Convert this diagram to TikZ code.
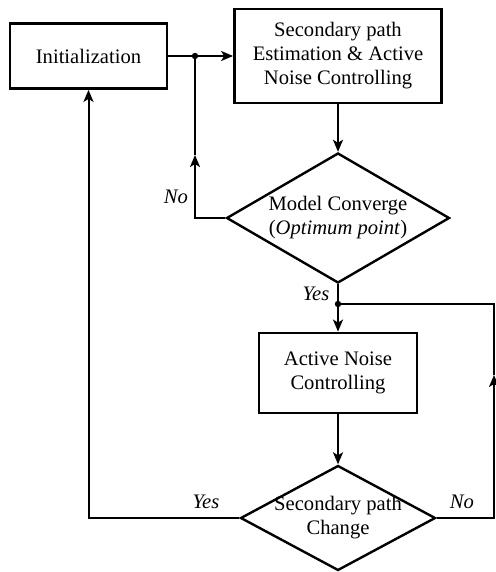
\documentclass[tikz,border=0pt]{standalone}
\usepackage{fontspec}
\setmainfont{Liberation Serif}
\usetikzlibrary{shapes.geometric,arrows.meta}
\tikzset{
  blk/.style={draw,line width=1.4pt,rectangle,align=center,inner sep=0pt},
  dec/.style={draw,line width=1.2pt,diamond,align=center,inner sep=0pt,inner xsep=-22pt},
  ln/.style={line width=1pt},
  arr/.style={ln,-{Stealth[length=6pt,width=5pt,inset=1.5pt]}},
  ans/.style={font=\fontsize{10.3}{12}\selectfont\itshape}
}
\begin{document}
\begin{tikzpicture}[x=0.5pt,y=-0.5pt,font=\fontsize{10.3}{12}\selectfont]
		\useasboundingbox (0,0) rectangle (495,572);
		\node[blk,minimum width=78.5pt,minimum height=32.5pt] (init) at (88.5,56) {Initialization};
		\node[blk,minimum width=103.5pt,minimum height=47pt] (est) at (338,56) {Secondary path\\Estimation \& Active\\Noise Controlling};
		\node[dec,shape aspect=1.7,minimum width=111.5pt,minimum height=65pt] (conv) at (338,218) {Model Converge\\(\textit{Optimum point})};
		\node[blk,minimum width=79pt,minimum height=40pt] (ctl) at (338,373) {Active Noise\\Controlling};
		\node[dec,shape aspect=1.85,minimum width=97.5pt,minimum height=52.5pt] (chg) at (338,518) {Secondary path\\Change};
		\coordinate (jn) at (195,56);
		\coordinate (noup) at (195,155);
		\coordinate (yes) at (338,304);
		\coordinate (noback) at (494,375);
		\draw[arr] (init) -- (est);
		\fill (jn) circle (1.6pt);
		\draw[arr] (est) -- (conv);
		\draw[arr] (conv.west) -| (noup);
		\draw[ln] (noup) -- (jn);
		\draw[arr] (conv) -- (ctl);
		\fill (yes) circle (1.6pt);
		\draw[ln] (yes) -| (noback);
		\draw[arr] (chg.east) -| (noback);
		\draw[arr] (ctl) -- (chg);
		\draw[arr] (chg.west) -| (init.south);
		\node[ans] (no1) at (176,197) {No};
		\node[ans] (yes1) at (316,294) {Yes};
		\node[ans] (yes2) at (206,502) {Yes};
		\node[ans] (no2) at (462,502) {No};
\end{tikzpicture}
\end{document}
